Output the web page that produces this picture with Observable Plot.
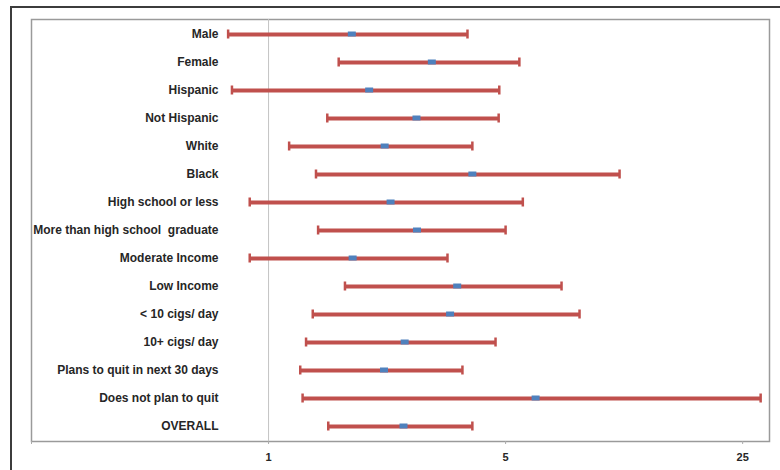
<!DOCTYPE html>
<html>
<head>
<meta charset="utf-8">
<script src="https://cdn.jsdelivr.net/npm/d3@7"></script>
<script src="https://cdn.jsdelivr.net/npm/@observablehq/plot@0.6"></script>
<style>
  html, body { margin: 0; padding: 0; background: #fff; overflow: hidden; width: 780px; height: 470px; }
  #outer { position: absolute; left: 10px; top: 6px; width: 900px; height: 600px;
           border-left: 2px solid #3c3c3c; border-top: 2px solid #3c3c3c; box-sizing: border-box; }
  #chart { position: absolute; left: 0; top: 0; }
</style>
</head>
<body>
<div id="outer"></div>
<div id="chart"></div>
<script>
const categories = [
  "Male", "Female", "Hispanic", "Not Hispanic", "White", "Black",
  "High school or less", "More than high school  graduate", "Moderate Income",
  "Low Income", "< 10 cigs/ day", "10+ cigs/ day", "Plans to quit in next 30 days",
  "Does not plan to quit", "OVERALL"
];
const lower    = [0.76, 1.61, 0.78, 1.49, 1.15, 1.38, 0.88, 1.40, 0.88, 1.68, 1.35, 1.29, 1.24, 1.26, 1.50];
const estimate = [1.76, 3.03, 1.98, 2.73, 2.20, 3.99, 2.29, 2.74, 1.77, 3.60, 3.43, 2.52, 2.19, 6.13, 2.50];
const upper    = [3.86, 5.49, 4.79, 4.77, 3.99, 10.84, 5.62, 5.00, 3.37, 7.31, 8.26, 4.67, 3.73, 28.25, 3.99];
const xTicks = [0.2, 1, 5, 25];
const xDomain = [0.2, 30];

const data = categories.map((c, i) => ({label: c, lo: lower[i], est: estimate[i], hi: upper[i]}));

const red = "#c0504d";
const blue = "#4f81bd";
const font = "'Liberation Sans', Arial, sans-serif";

const chart = Plot.plot({
  width: 780,
  height: 470,
  marginLeft: 31,
  marginRight: 11,
  marginTop: 19,
  marginBottom: 29,
  style: {fontFamily: font, background: "transparent", color: "#262626"},
  x: {type: "log", domain: xDomain},
  y: {type: "band", domain: categories, padding: 0, axis: null},
  marks: [
    Plot.frame({stroke: "#9a9a9a", strokeWidth: 1.5}),
    Plot.ruleX([1], {stroke: "#c4c4c4", strokeWidth: 1}),
    Plot.axisX({
      ticks: xTicks,
      tickFormat: d => (d === 0.2 ? "" : String(d)),
      tickSize: 3,
      tickPadding: 9,
      stroke: "#aaaaaa",
      fill: "#262626",
      fontWeight: "bold",
      fontSize: 11,
      label: null
    }),
    Plot.ruleY(data, {y: "label", x1: "lo", x2: "hi", stroke: red, strokeWidth: 4}),
    Plot.tickX(data, {x: "lo", y: "label", stroke: red, strokeWidth: 2.5, insetTop: 9.5, insetBottom: 9.5}),
    Plot.tickX(data, {x: "hi", y: "label", stroke: red, strokeWidth: 2.5, insetTop: 9.5, insetBottom: 9.5}),
    Plot.tickX(data, {x: "est", y: "label", stroke: blue, strokeWidth: 8, insetTop: 11.5, insetBottom: 11.5}),
    Plot.text(data, {
      y: "label", text: "label", frameAnchor: "left", dx: 187, textAnchor: "end",
      fontWeight: "bold", fontSize: 12, fill: "#262626"
    })
  ]
});
document.getElementById("chart").appendChild(chart);
</script>
</body>
</html>
